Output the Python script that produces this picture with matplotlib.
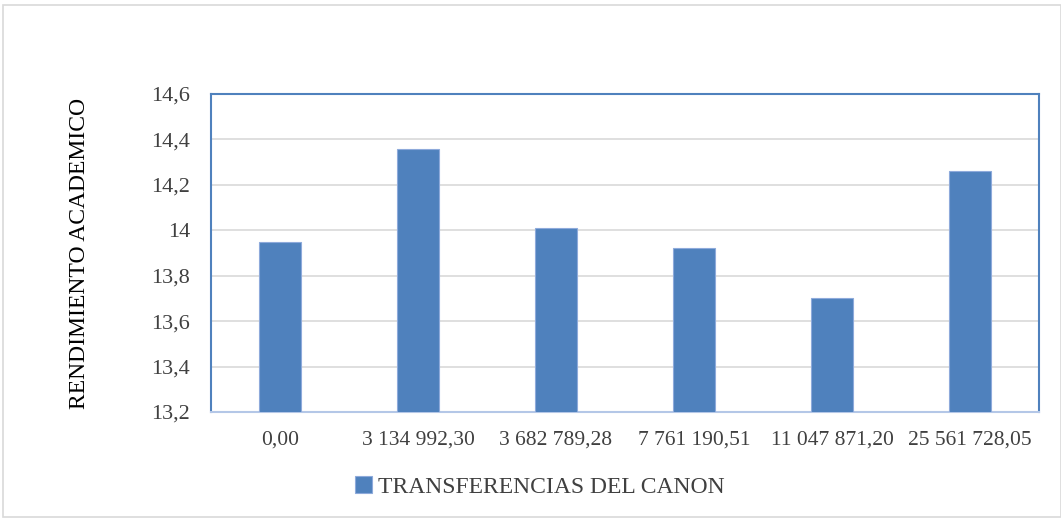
import matplotlib
matplotlib.use("Agg")
import matplotlib.pyplot as plt
from matplotlib.patches import Rectangle

categories = ["0,00", "3 134 992,30", "3 682 789,28", "7 761 190,51", "11 047 871,20", "25 561 728,05"]
values = [13.95, 14.36, 14.01, 13.92, 13.70, 14.26]
yticks = [13.2, 13.4, 13.6, 13.8, 14.0, 14.2, 14.4, 14.6]
ytick_labels = ["13,2", "13,4", "13,6", "13,8", "14", "14,2", "14,4", "14,6"]
series_name = "TRANSFERENCIAS DEL CANON"
ylabel = "RENDIMIENTO ACADEMICO"

plt.rcParams['font.family'] = ['Liberation Serif', 'DejaVu Serif']

W, H = 1061, 519
fig = plt.figure(figsize=(W / 100, H / 100), dpi=100)
ax = fig.add_axes([211 / W, 1 - 412 / H, (1039 - 211) / W, (412 - 94) / H])

bar_color = "#4F81BD"
x = list(range(len(categories)))
ax.bar(x, values, width=0.31, color=bar_color, edgecolor="#8EAADB", linewidth=0.8,
       bottom=0, zorder=3, label=series_name)
ax.set_xlim(-0.5, len(categories) - 0.5)
ax.set_ylim(13.2, 14.6)
ax.set_yticks(yticks)
ax.set_yticklabels(ytick_labels)
ax.set_xticks(x)
ax.set_xticklabels(categories)
ax.tick_params(axis='both', length=0, labelcolor="#404040")
ax.tick_params(axis='x', pad=13, labelsize=15.5)
ax.tick_params(axis='y', pad=15, labelsize=16)
ax.grid(axis='y', color="#D9D9D9", linewidth=1.2, zorder=0)
for s in ['left', 'top', 'right']:
    ax.spines[s].set_color("#4F81BD")
    ax.spines[s].set_linewidth(1.5)
ax.spines['bottom'].set_color("#B4C7E7")
ax.spines['bottom'].set_linewidth(1.5)

ax.set_ylabel(ylabel, fontsize=17, color="#000000")
ax.yaxis.set_label_coords(-(211 - 90) / (1039 - 211), 0.5)

leg = fig.legend(loc='center left', bbox_to_anchor=(334 / W, 1 - 487 / H), frameon=False,
                 fontsize=17, handlelength=0.7, handleheight=0.7, handletextpad=0.25,
                 labelcolor="#404040")

# outer frame
fig.patches.append(Rectangle((3 / W, 2 / H), (W - 3) / W, (H - 7) / H, transform=fig.transFigure,
                             fill=False, edgecolor="#D9D9D9", linewidth=1.2))

fig.savefig("out.png", dpi=100)
